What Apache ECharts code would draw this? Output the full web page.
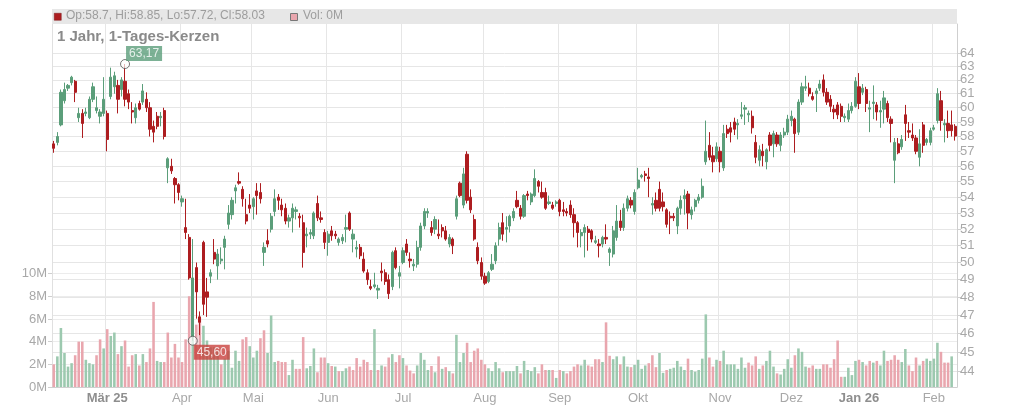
<!DOCTYPE html>
<html><head><meta charset="utf-8">
<script src="https://cdn.jsdelivr.net/npm/echarts@6/dist/echarts.min.js"></script>
<style>html,body{margin:0;padding:0;background:#fff}#c{width:1024px;height:409px}</style>
</head><body><div id="c"></div>
<script>
// ---- data ----
const startDate = '2025-02-10';
const endDate = '2026-02-10';
const holidays = ['2025-04-18','2025-04-21','2025-05-01','2025-12-24','2025-12-25','2025-12-26','2025-12-31','2026-01-01'];
const monthNames = ['Jan','Feb','Mär','Apr','Mai','Jun','Jul','Aug','Sep','Okt','Nov','Dez'];
const priceTicks = [44,45,46,47,48,49,50,51,52,53,54,55,56,57,58,59,60,61,62,63,64];
const volumeTicks = [0,2,4,6,8,10];
const titleText = '1 Jahr, 1-Tages-Kerzen';

const open = [
57.5,57.6,58.8,60.5,61.4,61.8,61.9,59.3,59.6,59.6,
59.3,60.6,59.8,59.4,59.6,59.6,60.8,61.5,61.6,61.3,
61.9,61.0,59.8,59.3,60.3,60.4,60.6,60.0,58.7,59.4,
59.3,59.8,55.9,56.0,55.2,54.8,53.7,52.1,51.5,45.8,
49.7,46.9,51.2,48.3,49.2,50.6,49.8,50.1,50.9,52.3,
52.9,54.4,55.0,54.5,52.9,53.5,53.4,54.4,54.3,50.6,
51.3,52.0,53.1,54.0,53.5,53.3,52.5,52.7,53.1,52.8,
52.4,51.6,51.7,51.6,53.6,52.7,51.8,51.2,51.9,51.7,
51.2,51.3,52.0,53.0,51.4,50.8,50.9,50.2,49.4,48.6,
48.6,48.4,49.5,49.4,49.0,48.6,50.7,49.2,50.0,51.1,
50.2,49.8,49.9,50.9,52.2,53.0,52.1,52.0,51.7,52.1,
51.9,51.1,51.4,52.8,54.9,53.5,56.8,54.0,52.6,50.9,
50.0,49.2,48.9,49.6,50.1,51.4,52.4,52.0,52.2,52.7,
53.8,53.3,52.8,54.2,53.7,54.1,55.0,54.3,54.3,53.6,
53.5,53.6,53.8,53.2,53.1,53.5,52.9,52.4,51.6,51.8,
52.0,51.9,51.2,51.1,51.1,51.5,50.6,50.5,51.5,52.5,
52.1,53.3,53.8,53.1,54.6,55.3,55.5,55.3,53.5,53.8,
54.5,53.7,53.2,52.8,52.8,52.2,53.3,53.9,54.2,52.9,
53.4,53.8,54.0,56.3,57.4,56.7,56.5,57.0,55.9,58.5,
58.6,59.0,58.8,59.4,59.9,59.5,59.4,57.6,56.4,57.0,
56.3,58.1,57.5,58.1,57.4,58.1,58.3,59.1,59.2,58.3,
60.4,61.4,61.4,60.8,61.0,61.4,62.0,61.1,60.6,59.9,
60.2,60.1,59.3,59.2,59.8,60.1,61.5,61.1,61.3,59.9,
60.3,60.2,59.7,59.9,60.3,59.2,56.4,57.5,57.3,59.5,
58.4,58.1,57.9,56.6,58.8,57.6,57.6,58.5,59.1,60.5,
58.8,58.9,58.8,58.7];

const high = [
57.7,58.3,61.3,61.8,61.7,62.3,62.0,60.0,59.9,60.0,
60.8,61.8,60.8,59.9,62.2,59.8,62.9,62.6,62.0,62.2,
63.17,61.3,60.4,60.3,60.5,61.7,61.1,60.4,59.1,59.7,
59.7,60.0,56.6,56.5,55.3,54.9,54.1,53.9,51.7,51.4,
50.0,47.2,51.3,49.1,49.6,51.4,50.8,50.9,51.6,53.5,
54.0,54.8,55.6,54.7,53.9,54.2,54.0,54.9,54.9,51.2,
52.0,53.0,54.5,54.2,53.9,53.6,52.9,53.6,53.4,53.0,
52.9,52.1,52.0,53.1,54.1,53.1,52.0,51.9,52.2,51.9,
51.5,51.7,52.9,53.1,52.0,51.3,51.1,50.6,49.6,49.0,
49.4,48.7,50.0,49.6,49.3,50.7,50.9,49.8,50.9,51.4,
50.6,50.2,51.3,52.4,53.3,53.3,52.5,52.8,52.6,52.3,
52.2,51.7,51.5,54.1,55.0,55.9,57.0,54.5,52.9,51.2,
50.3,49.4,49.5,50.5,51.2,52.4,53.0,52.8,52.9,53.3,
54.4,53.5,54.2,54.4,54.3,55.8,55.1,55.0,54.6,54.1,
53.7,53.8,53.9,53.7,53.3,53.8,53.3,52.5,52.0,52.3,
52.2,52.0,51.6,51.4,51.6,52.3,50.9,52.2,53.5,53.2,
53.6,54.1,54.0,54.5,55.9,55.5,55.7,55.9,54.0,54.3,
55.0,54.3,53.3,53.1,53.0,53.4,54.1,54.5,54.4,53.4,
53.9,54.2,55.2,59.1,58.3,57.3,57.6,57.3,58.8,58.8,
59.0,59.3,59.2,60.4,60.2,59.8,59.8,58.1,57.4,57.5,
57.2,58.3,58.4,58.3,58.3,58.6,59.5,59.8,59.3,60.6,
61.8,62.3,61.8,61.1,61.4,62.0,62.4,61.4,60.9,60.2,
60.4,60.3,59.6,60.3,60.4,62.2,62.5,61.7,61.5,60.5,
61.6,60.4,60.5,61.2,60.5,59.4,57.9,57.9,58.1,60.2,
59.0,58.9,58.1,58.5,59.0,57.9,58.6,58.8,61.4,61.2,
59.2,59.8,59.8,58.85];

const low = [
56.9,57.4,58.7,60.3,61.2,61.6,60.4,59.0,57.9,59.4,
59.2,60.4,59.6,58.9,59.4,57.0,60.6,61.0,59.6,60.8,
60.1,59.9,58.9,58.9,59.8,60.2,59.7,58.0,57.6,58.5,
58.7,57.8,54.9,55.5,53.6,53.8,53.4,51.4,49.0,45.6,
46.8,45.9,47.0,46.9,48.8,49.9,49.0,49.9,49.6,52.0,
52.6,53.6,54.8,53.4,52.3,53.0,52.6,52.9,53.6,49.8,
50.9,51.8,52.8,53.2,52.8,52.3,52.1,51.8,52.6,52.1,
49.7,50.9,51.4,51.4,52.5,52.4,50.8,50.4,51.3,51.4,
51.0,51.1,51.2,51.9,50.6,50.3,50.2,49.4,48.7,48.4,
48.5,47.9,48.9,48.7,47.9,48.4,49.6,48.5,49.9,50.4,
49.7,49.5,49.7,50.7,52.0,52.7,51.6,51.7,51.4,51.5,
51.3,50.9,50.5,52.6,54.0,53.3,53.6,53.0,51.3,49.9,
49.0,48.7,48.8,49.5,49.9,51.0,51.3,51.2,51.8,52.5,
53.3,52.6,52.7,53.8,53.5,54.0,54.3,53.9,53.2,53.5,
53.2,53.4,52.8,52.8,52.8,52.7,51.5,50.9,50.9,50.3,
50.7,51.2,51.1,50.3,50.9,51.1,49.8,50.3,51.3,51.9,
51.9,53.1,53.3,52.9,54.5,55.2,55.0,54.0,52.9,53.1,
53.1,53.1,52.1,51.7,52.5,51.7,52.9,52.9,52.0,52.6,
53.1,53.6,53.9,56.1,56.4,55.6,56.3,55.6,55.7,57.9,
57.6,58.1,57.8,59.2,58.8,59.0,58.2,56.2,56.0,56.0,
55.8,57.0,56.6,57.3,57.0,57.9,58.1,58.7,56.9,58.1,
60.2,61.2,60.8,60.5,59.7,61.2,60.8,60.2,59.7,59.2,
59.2,59.0,59.0,59.0,59.6,60.0,59.9,60.9,59.7,58.3,
59.2,59.1,58.6,58.9,59.0,57.6,54.9,56.8,57.1,57.7,
57.9,57.7,56.8,56.0,56.9,57.4,57.4,58.4,58.9,58.4,
57.6,57.9,58.0,57.72];

const close = [
57.2,58.0,61.1,61.3,61.6,62.2,61.1,59.6,58.9,59.7,
60.6,61.5,60.0,59.7,60.6,57.8,62.2,62.3,60.6,62.0,
60.6,60.4,59.7,60.0,59.9,61.2,60.0,58.5,58.3,58.7,
59.4,58.0,56.5,55.7,54.8,54.3,53.9,51.8,49.1,49.1,
48.3,46.6,47.6,48.0,49.4,50.2,50.5,50.2,51.4,53.0,
53.8,54.6,54.9,53.9,52.5,53.3,53.9,54.1,53.9,50.9,
51.1,52.8,53.9,53.8,53.2,52.5,52.7,53.3,53.2,52.7,
50.6,51.7,51.8,53.0,52.7,52.6,51.2,51.7,51.6,51.6,
51.4,51.5,52.1,52.0,51.7,50.9,50.4,49.5,49.0,48.5,
48.7,48.5,49.4,48.9,48.2,50.6,49.7,49.4,50.7,50.6,
50.1,49.9,50.9,52.2,53.1,53.1,51.8,52.6,51.6,51.9,
51.4,51.5,51.0,53.9,54.1,55.5,53.8,53.2,51.4,50.1,
49.2,48.8,49.4,49.9,51.0,52.1,51.7,52.1,52.8,53.1,
53.4,52.8,54.1,54.1,54.2,55.2,54.7,54.0,53.3,53.7,
53.3,53.7,53.1,53.1,53.0,52.9,52.4,51.8,51.8,52.1,
51.8,51.4,51.3,51.0,51.5,51.4,50.8,51.9,52.5,52.1,
53.3,53.9,53.5,54.3,55.1,55.4,55.4,55.2,53.6,53.3,
53.3,53.4,52.3,52.7,52.7,53.3,53.8,54.1,53.0,53.2,
53.8,54.0,54.7,57.0,56.6,56.3,57.3,56.3,58.2,58.2,
58.3,58.5,58.9,59.5,60.0,59.6,58.6,56.6,57.1,56.7,
57.1,57.4,58.2,57.5,58.1,58.3,59.2,59.4,58.2,60.4,
61.5,61.5,61.0,60.6,61.2,61.7,61.1,60.4,60.1,59.7,
59.5,59.4,59.4,59.8,60.1,61.9,60.3,61.4,60.3,60.0,
60.4,59.7,59.8,60.7,59.3,58.9,57.6,56.9,57.8,58.9,
58.3,57.9,57.0,57.5,57.4,57.8,58.4,58.6,61.0,59.1,
58.9,58.4,58.4,58.03];

// volume in millions
const volume = [
2.0,2.7,5.2,3.0,1.8,2.1,2.8,4.0,4.0,2.4,
2.1,2.0,2.8,4.2,3.4,5.1,4.5,4.8,2.9,3.6,
4.1,1.8,2.8,2.9,1.9,2.9,2.2,3.4,7.5,2.3,
2.2,2.2,4.8,2.6,3.8,2.6,2.2,4.2,8.0,7.0,
5.5,6.1,5.4,4.1,3.5,3.5,3.2,2.0,2.5,3.2,
1.7,3.2,2.3,4.2,4.4,3.6,2.6,3.2,4.3,5.0,
3.0,6.3,2.2,2.3,
2.2,2.2,1.05,2.4,1.6,1.6,4.4,1.65,1.85,3.4,1.3,2.6,2.6,2.1,1.85,1.8,1.4,1.4,1.65,1.8,1.5,2.55,1.8,2.4,2.2,1.5,5.1,1.5,1.9,1.8,2.6,
2.9,2.2,2.8,2.55,1.9,1.45,1.2,1.9,3.0,2.4,1.5,1.85,1.3,2.7,1.6,1.75,1.4,1.2,4.6,2.2,3.0,3.9,2.2,3.2,3.4,2.4,2.0,1.65,1.4,2.2,1.65,1.3,
1.4,1.4,1.4,1.85,1.2,2.3,1.5,1.4,1.75,1.2,2.0,1.5,1.5,1.5,0.8,1.5,1.4,1.2,1.4,1.8,2.0,1.9,2.4,1.9,1.8,2.45,2.45,2.2,5.7,2.75,2.45,2.7,
2.0,2.7,1.8,1.75,1.95,2.4,1.6,1.9,2.1,2.8,1.75,3.0,1.25,1.5,1.6,1.7,2.3,1.8,1.5,2.5,1.5,1.35,1.5,2.5,6.4,2.6,1.8,2.4,2.3,3.2,2.0,
2.0,2.0,1.6,2.6,1.7,2.15,1.9,2.7,1.6,1.9,2.3,3.2,1.8,1.2,1.1,1.6,2.45,1.7,2.8,3.4,3.1,1.8,1.7,1.9,1.6,1.6,2.0,2.0,1.7,2.45,4.1,
0.9,0.9,1.7,1.05,2.3,2.4,2.2,1.9,2.3,2.15,2.3,1.9,3.2,2.3,2.4,2.8,2.4,2.2,3.35,1.9,1.4,2.6,1.9,2.3,2.5,2.3,2.5,3.9,3.1,2.15,2.15,2.7,0];

// ---- colours / styles ----
const UP = '#5b9e7a', DOWN = '#ad1d20';
const VOL_UP = '#9cc9af', VOL_DOWN = '#e9a6ae';
const FONT = 'Liberation Sans, Arial, sans-serif';

// trading dates (weekdays without exchange holidays)
const dates = [];
(function(){
  const d = new Date(startDate + 'T00:00:00Z');
  const e = new Date(endDate + 'T00:00:00Z');
  while (d <= e) {
    const wd = d.getUTCDay();
    const s = d.toISOString().slice(0,10);
    if (wd !== 0 && wd !== 6 && holidays.indexOf(s) < 0) dates.push(s);
    d.setUTCDate(d.getUTCDate() + 1);
  }
})();

const n = Math.min(dates.length, open.length);
const cats = dates.slice(0, n);
const monthOf = s => +s.slice(5,7);
const isMonthStart = idx => idx > 0 && monthOf(cats[idx]) !== monthOf(cats[idx-1]);
let firstLabelIdx = -1;
for (let i = 1; i < n; i++) { if (isMonthStart(i)) { firstLabelIdx = i; break; } }

const candleData = [];
const volData = [];
for (let i = 0; i < n; i++) {
  candleData.push([open[i], close[i], low[i], high[i]]);
  const up = i === 0 ? close[i] >= open[i] : close[i] >= close[i-1];
  volData.push({ value: volume[i], itemStyle: { color: up ? VOL_UP : VOL_DOWN } });
}
let iMax = 0, iMin = 0;
for (let i = 0; i < n; i++) {
  if (high[i] > high[iMax]) iMax = i;
  if (low[i] < low[iMin]) iMin = i;
}
const fmtDe = v => v.toFixed(2).replace('.', ',');
const last = n - 1;
const legendText = 'Op:' + open[last] + ', Hi:' + high[last] + ', Lo:' + low[last] + ', Cl:' + close[last];
const volText = 'Vol: ' + Math.round(volume[last]) + 'M';

const chart = echarts.init(document.getElementById('c'), null, { renderer: 'canvas' });
const GRID_L = 52, GRID_R = 67, GRID_T = 24, GRID_B = 22;

chart.setOption({
  animation: false,
  backgroundColor: '#ffffff',
  textStyle: { fontFamily: FONT },
  grid: { left: GRID_L, right: GRID_R, top: GRID_T, bottom: GRID_B, containLabel: false, outerBoundsMode: 'none' },
  xAxis: {
    type: 'category',
    data: cats,
    boundaryGap: true,
    axisLine: { show: true, lineStyle: { color: '#cfcfcf' } },
    axisTick: { show: false },
    axisLabel: {
      interval: (idx) => isMonthStart(idx),
      margin: 5,
      color: '#a8a8a8',
      fontSize: 13,
      fontFamily: FONT,
      formatter: (val, idx) => {
        const m = monthOf(val);
        const name = monthNames[m - 1];
        if (idx === firstLabelIdx || m === 1) return '{b|' + name + ' ' + val.slice(2,4) + '}';
        return name;
      },
      rich: { b: { fontWeight: 'bold', color: '#8e8e8e', fontSize: 13, fontFamily: FONT } }
    },
    splitLine: { show: true, interval: (idx) => isMonthStart(idx), lineStyle: { color: '#e6e6e6', width: 1 } }
  },
  yAxis: [
    {
      type: 'log',
      logBase: 10,
      position: 'right',
      min: 43.18,
      max: 66.22,
      axisLine: { show: true, lineStyle: { color: '#cfcfcf' } },
      axisTick: { show: true, length: 4, lineStyle: { color: '#cfcfcf' }, customValues: priceTicks },
      axisLabel: { show: true, customValues: priceTicks, margin: 3, color: '#a8a8a8', fontSize: 13, fontFamily: FONT,
        formatter: v => String(Math.round(v)) },
      splitLine: { show: true, lineStyle: { color: '#e6e6e6', width: 1 } }
    },
    {
      type: 'value',
      position: 'left',
      min: 0,
      max: 32,
      axisLine: { show: true, lineStyle: { color: '#e0e0e0' } },
      axisTick: { show: true, length: 4, lineStyle: { color: '#cfcfcf' }, customValues: volumeTicks },
      axisLabel: { show: true, customValues: volumeTicks, margin: 5, color: '#a8a8a8', fontSize: 13, fontFamily: FONT,
        formatter: v => Math.round(v) + 'M' },
      splitLine: { show: true, lineStyle: { color: '#ececec', width: 1 } }
    }
  ],
  series: [
    {
      type: 'bar',
      xAxisIndex: 0,
      yAxisIndex: 1,
      data: volData,
      barWidth: '72%',
      z: 1,
      silent: true
    },
    {
      type: 'candlestick',
      xAxisIndex: 0,
      yAxisIndex: 0,
      data: candleData,
      barWidth: '76%',
      z: 3,
      itemStyle: { color: UP, color0: DOWN, borderColor: UP, borderColor0: DOWN, borderWidth: 1 }
    },
    {
      type: 'scatter',
      xAxisIndex: 0,
      yAxisIndex: 0,
      z: 5,
      symbol: 'circle',
      symbolSize: 9,
      itemStyle: { color: 'rgba(255,255,255,0.85)', borderColor: '#555', borderWidth: 1 },
      data: [
        { value: [iMax, high[iMax]], label: { show: true, formatter: fmtDe(high[iMax]), position: [6, -13], align: 'left', verticalAlign: 'top',
            backgroundColor: UP, color: '#fff', fontSize: 12, fontFamily: FONT, padding: [2, 3, 1, 3], lineHeight: 12 } },
        { value: [iMin, low[iMin]], label: { show: true, formatter: fmtDe(low[iMin]), position: [6, 9], align: 'left', verticalAlign: 'top',
            backgroundColor: '#c9413d', color: '#fff', fontSize: 12, fontFamily: FONT, padding: [2, 3, 1, 3], lineHeight: 12 } }
      ]
    }
  ],
  graphic: [
    { type: 'rect', left: GRID_L, top: 9, shape: { width: 1024 - GRID_L - GRID_R, height: 15 }, style: { fill: '#e7e7e7' }, z: 10 },
    { type: 'rect', left: 54, top: 13, shape: { width: 7, height: 7 }, style: { fill: DOWN, stroke: '#7a1515', lineWidth: 0.5 }, z: 11 },
    { type: 'text', left: 66, top: 10, style: { text: legendText, fill: '#9d9d9d', font: '12px ' + FONT }, z: 11 },
    { type: 'rect', left: 290, top: 13, shape: { width: 7, height: 7 }, style: { fill: VOL_DOWN, stroke: '#777', lineWidth: 1 }, z: 11 },
    { type: 'text', left: 303, top: 10, style: { text: volText, fill: '#9d9d9d', font: '12px ' + FONT }, z: 11 },
    { type: 'text', left: 57, top: 29, style: { text: titleText, fill: '#8a8a8a', font: 'bold 15px ' + FONT }, z: 11 }
  ]
});
</script>
</body></html>
